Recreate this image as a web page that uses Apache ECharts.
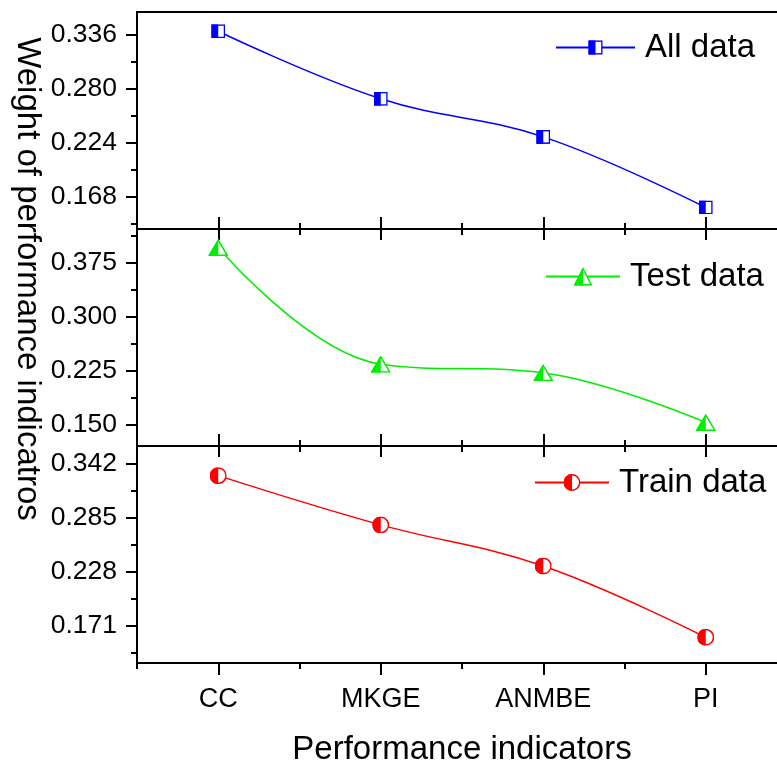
<!DOCTYPE html>
<html>
<head>
<meta charset="utf-8">
<script src="https://cdn.jsdelivr.net/npm/echarts@6/dist/echarts.min.js"></script>
<style>
html,body{margin:0;padding:0;background:#fff;}
#chart{width:777px;height:760px;}
</style>
</head>
<body>
<div id="chart"></div>
<script>
// ---------- data ----------
const categories = ['CC', 'MKGE', 'ANMBE', 'PI'];
const seriesNames = ['All data', 'Test data', 'Train data'];
const allData = [0.340, 0.270, 0.2305, 0.1573];
const testData = [0.396, 0.234, 0.222, 0.153];
const trainData = [0.329, 0.277, 0.2336, 0.1583];

const allTicks = [0.168, 0.224, 0.280, 0.336];
const allMinor = [0.140, 0.196, 0.252, 0.308];
const testTicks = [0.150, 0.225, 0.300, 0.375];
const testMinor = [0.1875, 0.2625, 0.3375, 0.4125];
const trainTicks = [0.171, 0.228, 0.285, 0.342];
const trainMinor = [0.1425, 0.1995, 0.2565, 0.3135];

const allRange = [0.135, 0.360];
const testRange = [0.1203, 0.4217];
const trainRange = [0.1312, 0.3603];

const xTitle = 'Performance indicators';
const yTitle = 'Weight of performance indicatros';

// ---------- style ----------
const FONT = '"Liberation Sans", Arial, sans-serif';
const BLUE = '#0000ff', GREEN = '#00ee00', RED = '#ff0000';

function svgUri(svg) {
  return 'image://data:image/svg+xml;charset=utf-8,' + encodeURIComponent(svg);
}
function halfSquare(c) {
  return svgUri("<svg xmlns='http://www.w3.org/2000/svg' width='28' height='28' viewBox='0 0 28 28'>" +
    "<rect x='1.5' y='1.5' width='25' height='25' fill='white' stroke='" + c + "' stroke-width='3'/>" +
    "<rect x='0' y='0' width='14' height='28' fill='" + c + "'/></svg>");
}
function halfTriangle(c) {
  return svgUri("<svg xmlns='http://www.w3.org/2000/svg' width='40' height='34' viewBox='0 0 40 34'>" +
    "<polygon points='20,2.5 38,32.5 2,32.5' fill='white' stroke='" + c + "' stroke-width='3' stroke-linejoin='miter'/>" +
    "<polygon points='20,0 20,34 0,34' fill='" + c + "'/></svg>");
}
function halfCircle(c) {
  return svgUri("<svg xmlns='http://www.w3.org/2000/svg' width='34' height='34' viewBox='0 0 34 34'>" +
    "<circle cx='17' cy='17' r='15.5' fill='white' stroke='" + c + "' stroke-width='3'/>" +
    "<path d='M17,0 A17,17 0 0 0 17,34 Z' fill='" + c + "'/></svg>");
}

const panels = [
  { name: seriesNames[0], data: allData, ticks: allTicks, minor: allMinor, range: allRange, color: BLUE,
    symbol: halfSquare(BLUE), size: [14, 14], legend: { left: 555, top: 31, w: 79, h: 18 } },
  { name: seriesNames[1], data: testData, ticks: testTicks, minor: testMinor, range: testRange, color: GREEN,
    symbol: halfTriangle(GREEN), size: [20, 17], legend: { left: 545, top: 260, w: 74, h: 23 } },
  { name: seriesNames[2], data: trainData, ticks: trainTicks, minor: trainMinor, range: trainRange, color: RED,
    symbol: halfCircle(RED), size: [17, 17], legend: { left: 534, top: 466, w: 74, h: 21 } }
];

const tops = [12, 229, 446];
const H = 217, LEFT = 137, W = 650;

const grid = [], xAxis = [], yAxis = [], series = [], legend = [];
const tickLine = { color: '#000', width: 2 };

panels.forEach((p, i) => {
  grid.push({ left: LEFT, top: tops[i], width: W, height: H, show: true,
    outerBoundsMode: 'none', containLabel: false,
    borderColor: '#000', borderWidth: 2, backgroundColor: 'transparent' });

  const isLast = i === panels.length - 1;
  const xMajorIdx = xAxis.length;
  // bottom major ticks
  xAxis.push({
    type: 'category', gridIndex: i, data: categories, position: 'bottom', boundaryGap: true,
    axisLine: { show: false },
    axisTick: { show: true, alignWithLabel: true, interval: 0, inside: !isLast, length: 12, lineStyle: tickLine },
    axisLabel: { show: isLast, interval: 0, fontSize: 27, color: '#000', fontFamily: FONT, margin: 23 },
    splitLine: { show: false },
    name: isLast ? xTitle : '', nameLocation: 'middle', nameGap: 70,
    nameTextStyle: { fontSize: 33, color: '#000', fontFamily: FONT }
  });
  // bottom minor ticks
  xAxis.push({
    type: 'category', gridIndex: i, data: categories, position: 'bottom', boundaryGap: true,
    axisLine: { show: false },
    axisTick: { show: true, alignWithLabel: false, interval: 0, inside: !isLast, length: 6, lineStyle: tickLine },
    axisLabel: { show: false }, splitLine: { show: false }
  });
  if (i > 0) {
    xAxis.push({
      type: 'category', gridIndex: i, data: categories, position: 'top', boundaryGap: true,
      axisLine: { show: false },
      axisTick: { show: true, alignWithLabel: true, interval: 0, inside: true, length: 11, lineStyle: tickLine },
      axisLabel: { show: false }, splitLine: { show: false }
    });
    xAxis.push({
      type: 'category', gridIndex: i, data: categories, position: 'top', boundaryGap: true,
      axisLine: { show: false },
      axisTick: { show: true, alignWithLabel: false, interval: 0, inside: true, length: 6, lineStyle: tickLine },
      axisLabel: { show: false }, splitLine: { show: false }
    });
  }

  const yMajorIdx = yAxis.length;
  yAxis.push({
    type: 'value', gridIndex: i, position: 'left', min: p.range[0], max: p.range[1],
    axisLine: { show: false }, splitLine: { show: false },
    axisTick: { show: true, customValues: p.ticks, length: 11, lineStyle: tickLine },
    axisLabel: { show: true, customValues: p.ticks, fontSize: 26.5, color: '#000', fontFamily: FONT, margin: 20,
      formatter: v => v.toFixed(3) }
  });
  yAxis.push({
    type: 'value', gridIndex: i, position: 'left', min: p.range[0], max: p.range[1],
    axisLine: { show: false }, splitLine: { show: false },
    axisTick: { show: true, customValues: p.minor, length: 6, lineStyle: tickLine },
    axisLabel: { show: false }
  });

  series.push({
    type: 'line', name: p.name, xAxisIndex: xMajorIdx, yAxisIndex: yMajorIdx,
    data: p.data, smooth: 0.4, symbol: p.symbol, symbolSize: p.size, showSymbol: true,
    lineStyle: { color: p.color, width: 1.5 }, itemStyle: { color: p.color },
    emphasis: { disabled: true }, clip: false, z: 3
  });

  legend.push({
    data: [p.name], left: p.legend.left, top: p.legend.top, padding: 0, selectedMode: false,
    itemWidth: p.legend.w, itemHeight: p.legend.h,
    textStyle: { fontSize: 33, color: '#000', fontFamily: FONT, padding: [0, 0, 0, 5] }
  });
});

const chart = echarts.init(document.getElementById('chart'), null, { renderer: 'canvas' });
chart.setOption({
  animation: false,
  backgroundColor: '#fff',
  grid, xAxis, yAxis, series, legend,
  graphic: [{
    type: 'text', x: 27, y: 279, rotation: -Math.PI / 2,
    style: { text: yTitle, fontSize: 33, fontFamily: FONT, fill: '#000', align: 'center', verticalAlign: 'middle' }
  }]
});
</script>
</body>
</html>
